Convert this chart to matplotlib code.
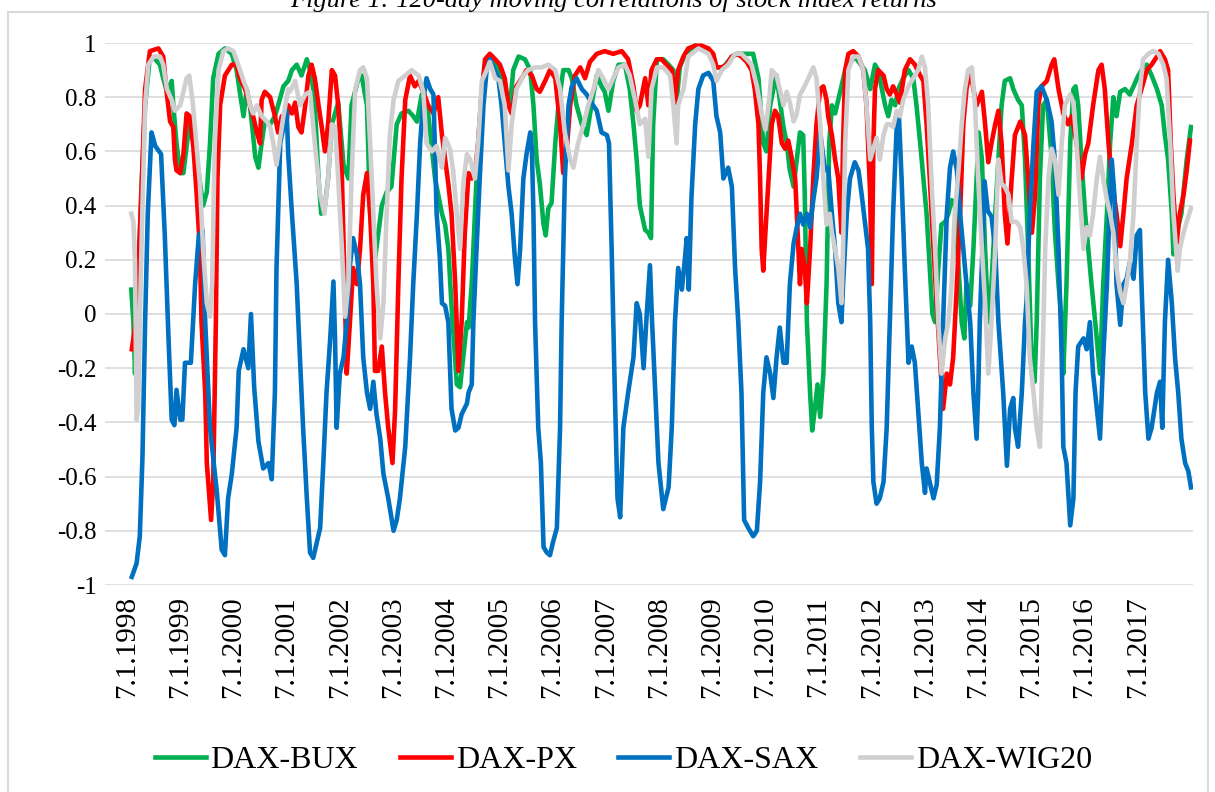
import matplotlib
matplotlib.use("Agg")
import matplotlib.pyplot as plt
from matplotlib.patches import Rectangle
import numpy as np

plt.rcParams['font.family'] = ['Liberation Serif', 'DejaVu Serif']

# (decimal year, 120-day correlation)
dax_bux = [
    (1998.08, 0.09), (1998.12, -0.03), (1998.15, -0.22), (1998.21, 0.11), (1998.28, 0.50), (1998.34, 0.77),
    (1998.43, 0.95), (1998.53, 0.94), (1998.62, 0.92), (1998.68, 0.87), (1998.75, 0.82), (1998.84, 0.86),
    (1998.87, 0.77), (1998.93, 0.63), (1999.00, 0.52), (1999.06, 0.52), (1999.12, 0.62), (1999.18, 0.71),
    (1999.25, 0.66), (1999.34, 0.53), (1999.43, 0.40), (1999.50, 0.45), (1999.56, 0.63), (1999.62, 0.87),
    (1999.72, 0.96), (1999.84, 0.98), (1999.97, 0.96), (2000.06, 0.90), (2000.12, 0.82), (2000.19, 0.73),
    (2000.25, 0.83), (2000.31, 0.77), (2000.37, 0.66), (2000.41, 0.58), (2000.47, 0.54), (2000.53, 0.63),
    (2000.59, 0.71), (2000.69, 0.70), (2000.78, 0.73), (2000.84, 0.77), (2000.94, 0.84), (2001.03, 0.86),
    (2001.10, 0.90), (2001.19, 0.92), (2001.28, 0.88), (2001.38, 0.94), (2001.47, 0.88), (2001.53, 0.77),
    (2001.60, 0.50), (2001.65, 0.37), (2001.72, 0.40), (2001.78, 0.50), (2001.85, 0.70), (2001.97, 0.78),
    (2002.07, 0.55), (2002.16, 0.50), (2002.22, 0.77), (2002.35, 0.87), (2002.41, 0.88), (2002.51, 0.77),
    (2002.57, 0.37), (2002.66, 0.20), (2002.79, 0.40), (2002.88, 0.45), (2002.97, 0.47), (2003.07, 0.70),
    (2003.16, 0.74), (2003.29, 0.75), (2003.38, 0.73), (2003.45, 0.71), (2003.54, 0.81), (2003.66, 0.74),
    (2003.79, 0.50), (2003.92, 0.37), (2003.98, 0.33), (2004.04, 0.24), (2004.10, 0.03), (2004.20, -0.26),
    (2004.26, -0.27), (2004.32, -0.16), (2004.39, -0.03), (2004.42, -0.05), (2004.48, 0.11), (2004.54, 0.37),
    (2004.60, 0.63), (2004.67, 0.83), (2004.73, 0.92), (2004.85, 0.94), (2004.98, 0.90), (2005.07, 0.86),
    (2005.14, 0.79), (2005.20, 0.77), (2005.26, 0.90), (2005.36, 0.95), (2005.48, 0.94), (2005.58, 0.90),
    (2005.64, 0.77), (2005.70, 0.57), (2005.76, 0.48), (2005.83, 0.33), (2005.87, 0.29), (2005.92, 0.39),
    (2005.98, 0.41), (2006.05, 0.63), (2006.11, 0.77), (2006.20, 0.90), (2006.30, 0.90), (2006.36, 0.87),
    (2006.45, 0.77), (2006.55, 0.70), (2006.64, 0.66), (2006.73, 0.77), (2006.83, 0.88), (2006.92, 0.84),
    (2006.98, 0.82), (2007.05, 0.75), (2007.14, 0.86), (2007.24, 0.92), (2007.36, 0.92), (2007.45, 0.83),
    (2007.52, 0.70), (2007.58, 0.57), (2007.64, 0.40), (2007.74, 0.31), (2007.80, 0.30), (2007.85, 0.28),
    (2007.87, 0.50), (2007.89, 0.70), (2007.96, 0.94), (2008.08, 0.94), (2008.18, 0.92), (2008.27, 0.90),
    (2008.33, 0.78), (2008.39, 0.91), (2008.49, 0.96), (2008.68, 0.99), (2008.87, 0.98), (2008.99, 0.96),
    (2009.08, 0.91), (2009.21, 0.91), (2009.37, 0.95), (2009.49, 0.96), (2009.62, 0.96), (2009.77, 0.96),
    (2009.87, 0.87), (2009.96, 0.63), (2010.02, 0.60), (2010.09, 0.77), (2010.15, 0.83), (2010.21, 0.88),
    (2010.27, 0.79), (2010.34, 0.69), (2010.40, 0.63), (2010.46, 0.53), (2010.53, 0.47), (2010.59, 0.57),
    (2010.65, 0.67), (2010.71, 0.66), (2010.74, 0.44), (2010.78, -0.03), (2010.84, -0.29), (2010.88, -0.43),
    (2010.93, -0.35), (2010.98, -0.26), (2011.03, -0.38), (2011.09, -0.22), (2011.15, 0.11), (2011.20, 0.63),
    (2011.25, 0.77), (2011.31, 0.74), (2011.50, 0.90), (2011.68, 0.95), (2011.87, 0.90), (2011.97, 0.83),
    (2012.06, 0.92), (2012.12, 0.90), (2012.19, 0.83), (2012.25, 0.77), (2012.31, 0.73), (2012.37, 0.79),
    (2012.44, 0.77), (2012.50, 0.83), (2012.59, 0.87), (2012.69, 0.90), (2012.78, 0.87), (2012.84, 0.77),
    (2012.91, 0.63), (2012.97, 0.50), (2013.03, 0.37), (2013.09, 0.17), (2013.14, 0.00), (2013.19, -0.03),
    (2013.25, 0.17), (2013.31, 0.33), (2013.38, 0.34), (2013.44, 0.37), (2013.50, 0.42), (2013.56, 0.41),
    (2013.63, 0.17), (2013.69, -0.03), (2013.74, -0.09), (2013.78, 0.11), (2013.85, 0.03), (2013.91, 0.24),
    (2013.97, 0.50), (2014.01, 0.67), (2014.07, 0.57), (2014.13, 0.24), (2014.19, -0.03), (2014.25, 0.11),
    (2014.32, 0.37), (2014.38, 0.57), (2014.44, 0.77), (2014.50, 0.86), (2014.60, 0.87), (2014.66, 0.83),
    (2014.75, 0.79), (2014.82, 0.77), (2014.88, 0.57), (2014.94, 0.24), (2015.01, -0.22), (2015.06, -0.25),
    (2015.10, -0.03), (2015.16, 0.50), (2015.22, 0.77), (2015.29, 0.79), (2015.38, 0.58), (2015.44, 0.31),
    (2015.51, 0.11), (2015.57, -0.03), (2015.60, -0.22), (2015.66, 0.11), (2015.73, 0.63), (2015.79, 0.83),
    (2015.83, 0.84), (2015.88, 0.77), (2015.94, 0.57), (2016.01, 0.37), (2016.07, 0.24), (2016.13, 0.11),
    (2016.20, -0.03), (2016.29, -0.22), (2016.35, 0.11), (2016.42, 0.37), (2016.48, 0.63), (2016.54, 0.80),
    (2016.60, 0.73), (2016.67, 0.82), (2016.76, 0.83), (2016.85, 0.81), (2016.92, 0.84), (2017.01, 0.88),
    (2017.10, 0.91), (2017.17, 0.92), (2017.26, 0.88), (2017.36, 0.83), (2017.45, 0.77), (2017.51, 0.66),
    (2017.57, 0.57), (2017.64, 0.37), (2017.67, 0.22), (2017.73, 0.30), (2017.82, 0.37), (2017.92, 0.57),
    (2018.00, 0.69),
]

dax_px = [
    (1998.09, -0.13), (1998.15, -0.05), (1998.22, 0.20), (1998.28, 0.50), (1998.34, 0.83), (1998.43, 0.97),
    (1998.59, 0.98), (1998.68, 0.95), (1998.75, 0.81), (1998.81, 0.71), (1998.87, 0.69), (1998.90, 0.57),
    (1998.93, 0.53), (1999.00, 0.52), (1999.06, 0.59), (1999.12, 0.74), (1999.18, 0.73), (1999.25, 0.61),
    (1999.31, 0.44), (1999.37, 0.24), (1999.40, -0.03), (1999.47, -0.29), (1999.50, -0.55), (1999.58, -0.76),
    (1999.62, -0.62), (1999.67, -0.03), (1999.70, 0.50), (1999.75, 0.77), (1999.84, 0.88), (1999.97, 0.92),
    (2000.06, 0.92), (2000.12, 0.87), (2000.22, 0.83), (2000.28, 0.79), (2000.37, 0.73), (2000.44, 0.67),
    (2000.50, 0.63), (2000.53, 0.79), (2000.59, 0.82), (2000.69, 0.80), (2000.78, 0.73), (2000.84, 0.67),
    (2000.91, 0.73), (2001.00, 0.71), (2001.03, 0.77), (2001.10, 0.74), (2001.16, 0.78), (2001.22, 0.69),
    (2001.28, 0.67), (2001.35, 0.77), (2001.41, 0.88), (2001.47, 0.92), (2001.53, 0.87), (2001.60, 0.77),
    (2001.66, 0.69), (2001.72, 0.60), (2001.78, 0.70), (2001.85, 0.90), (2001.91, 0.88), (2001.97, 0.77),
    (2002.04, 0.50), (2002.09, 0.11), (2002.13, -0.22), (2002.19, -0.03), (2002.25, 0.17), (2002.32, 0.11),
    (2002.38, 0.24), (2002.44, 0.44), (2002.51, 0.52), (2002.57, 0.37), (2002.63, 0.11), (2002.66, -0.21),
    (2002.72, -0.21), (2002.79, -0.12), (2002.85, -0.29), (2002.91, -0.42), (2002.99, -0.55), (2003.04, -0.35),
    (2003.10, 0.11), (2003.16, 0.50), (2003.23, 0.79), (2003.32, 0.88), (2003.41, 0.84), (2003.48, 0.86),
    (2003.57, 0.82), (2003.66, 0.77), (2003.76, 0.74), (2003.85, 0.80), (2003.92, 0.66), (2003.98, 0.57),
    (2004.04, 0.48), (2004.10, 0.37), (2004.17, 0.11), (2004.23, -0.21), (2004.29, -0.03), (2004.35, 0.30),
    (2004.42, 0.52), (2004.48, 0.50), (2004.54, 0.52), (2004.60, 0.63), (2004.67, 0.82), (2004.73, 0.94),
    (2004.82, 0.96), (2004.92, 0.94), (2005.01, 0.92), (2005.10, 0.87), (2005.17, 0.77), (2005.23, 0.74),
    (2005.32, 0.84), (2005.42, 0.87), (2005.51, 0.90), (2005.61, 0.88), (2005.70, 0.83), (2005.76, 0.82),
    (2005.86, 0.86), (2005.95, 0.90), (2006.05, 0.87), (2006.14, 0.70), (2006.20, 0.52), (2006.26, 0.59),
    (2006.33, 0.77), (2006.42, 0.88), (2006.52, 0.91), (2006.61, 0.87), (2006.70, 0.93), (2006.83, 0.96),
    (2006.98, 0.97), (2007.14, 0.96), (2007.30, 0.97), (2007.42, 0.94), (2007.52, 0.84), (2007.58, 0.75),
    (2007.64, 0.77), (2007.74, 0.87), (2007.80, 0.77), (2007.86, 0.90), (2007.96, 0.94), (2008.05, 0.94),
    (2008.14, 0.92), (2008.24, 0.90), (2008.30, 0.78), (2008.36, 0.90), (2008.46, 0.95), (2008.55, 0.98),
    (2008.68, 0.99), (2008.80, 0.99), (2008.93, 0.98), (2009.02, 0.96), (2009.08, 0.91), (2009.18, 0.91),
    (2009.27, 0.92), (2009.37, 0.95), (2009.46, 0.96), (2009.55, 0.95), (2009.65, 0.93), (2009.74, 0.90),
    (2009.80, 0.83), (2009.87, 0.70), (2009.90, 0.50), (2009.93, 0.24), (2009.96, 0.16), (2010.00, 0.30),
    (2010.06, 0.50), (2010.12, 0.70), (2010.18, 0.75), (2010.24, 0.73), (2010.31, 0.63), (2010.37, 0.61),
    (2010.43, 0.64), (2010.49, 0.58), (2010.56, 0.50), (2010.62, 0.24), (2010.65, 0.11), (2010.68, 0.24),
    (2010.74, 0.17), (2010.78, 0.04), (2010.84, 0.24), (2010.90, 0.50), (2010.96, 0.70), (2011.03, 0.83),
    (2011.09, 0.84), (2011.15, 0.79), (2011.18, 0.73), (2011.25, 0.66), (2011.31, 0.57), (2011.37, 0.50),
    (2011.43, 0.30), (2011.46, 0.63), (2011.50, 0.90), (2011.56, 0.96), (2011.65, 0.97), (2011.75, 0.95),
    (2011.84, 0.90), (2011.90, 0.77), (2011.97, 0.44), (2012.00, 0.11), (2012.03, 0.63), (2012.06, 0.83),
    (2012.12, 0.90), (2012.22, 0.88), (2012.28, 0.83), (2012.34, 0.81), (2012.40, 0.84), (2012.47, 0.81),
    (2012.53, 0.78), (2012.62, 0.90), (2012.72, 0.94), (2012.81, 0.92), (2012.91, 0.88), (2012.97, 0.86),
    (2013.03, 0.70), (2013.09, 0.50), (2013.16, 0.24), (2013.22, 0.04), (2013.28, -0.16), (2013.34, -0.35),
    (2013.41, -0.22), (2013.47, -0.26), (2013.53, -0.16), (2013.60, 0.11), (2013.66, 0.37), (2013.72, 0.70),
    (2013.78, 0.83), (2013.85, 0.90), (2013.91, 0.83), (2013.97, 0.77), (2014.07, 0.82), (2014.13, 0.70),
    (2014.19, 0.56), (2014.25, 0.63), (2014.32, 0.70), (2014.38, 0.75), (2014.44, 0.63), (2014.50, 0.37),
    (2014.55, 0.26), (2014.63, 0.50), (2014.69, 0.66), (2014.79, 0.71), (2014.88, 0.66), (2014.94, 0.50),
    (2015.01, 0.30), (2015.07, 0.44), (2015.13, 0.77), (2015.19, 0.84), (2015.29, 0.86), (2015.38, 0.92),
    (2015.43, 0.94), (2015.51, 0.83), (2015.60, 0.74), (2015.69, 0.70), (2015.76, 0.73), (2015.85, 0.63),
    (2015.94, 0.50), (2016.01, 0.59), (2016.07, 0.63), (2016.16, 0.77), (2016.26, 0.90), (2016.32, 0.92),
    (2016.38, 0.83), (2016.45, 0.63), (2016.51, 0.50), (2016.60, 0.37), (2016.67, 0.25), (2016.73, 0.37),
    (2016.79, 0.50), (2016.89, 0.63), (2016.98, 0.77), (2017.07, 0.83), (2017.17, 0.90), (2017.26, 0.92),
    (2017.36, 0.95), (2017.42, 0.97), (2017.51, 0.94), (2017.57, 0.90), (2017.62, 0.63), (2017.67, 0.44),
    (2017.73, 0.26), (2017.79, 0.37), (2017.86, 0.44), (2017.92, 0.53), (2017.98, 0.64),
]

dax_sax = [
    (1998.09, -0.97), (1998.18, -0.92), (1998.24, -0.82), (1998.29, -0.53), (1998.34, -0.03), (1998.39, 0.37),
    (1998.46, 0.67), (1998.53, 0.62), (1998.64, 0.59), (1998.71, 0.29), (1998.78, -0.09), (1998.84, -0.39),
    (1998.89, -0.41), (1998.93, -0.28), (1999.00, -0.39), (1999.04, -0.39), (1999.09, -0.18), (1999.20, -0.18),
    (1999.28, 0.11), (1999.35, 0.29), (1999.42, 0.31), (1999.47, -0.03), (1999.56, -0.42), (1999.69, -0.66),
    (1999.78, -0.87), (1999.84, -0.89), (1999.90, -0.68), (1999.97, -0.59), (2000.06, -0.42), (2000.10, -0.21),
    (2000.19, -0.13), (2000.28, -0.20), (2000.33, 0.00), (2000.39, -0.27), (2000.47, -0.47), (2000.56, -0.57),
    (2000.66, -0.55), (2000.72, -0.61), (2000.78, -0.29), (2000.81, 0.17), (2000.88, 0.63), (2001.00, 0.75),
    (2001.03, 0.59), (2001.10, 0.37), (2001.19, 0.11), (2001.25, -0.16), (2001.31, -0.42), (2001.38, -0.68),
    (2001.44, -0.88), (2001.50, -0.90), (2001.57, -0.84), (2001.63, -0.79), (2001.69, -0.55), (2001.75, -0.29),
    (2001.82, -0.09), (2001.88, 0.12), (2001.91, -0.09), (2001.94, -0.42), (2002.00, -0.22), (2002.07, -0.16),
    (2002.13, -0.03), (2002.19, 0.18), (2002.25, 0.28), (2002.32, 0.22), (2002.38, 0.11), (2002.44, -0.16),
    (2002.51, -0.29), (2002.57, -0.35), (2002.63, -0.25), (2002.69, -0.37), (2002.76, -0.46), (2002.82, -0.59),
    (2002.91, -0.68), (2003.01, -0.80), (2003.07, -0.76), (2003.13, -0.68), (2003.23, -0.49), (2003.32, -0.16),
    (2003.38, 0.11), (2003.45, 0.37), (2003.51, 0.63), (2003.57, 0.79), (2003.63, 0.87), (2003.70, 0.83),
    (2003.76, 0.81), (2003.82, 0.37), (2003.88, 0.21), (2003.92, 0.04), (2003.98, 0.03), (2004.04, -0.03),
    (2004.10, -0.35), (2004.17, -0.43), (2004.23, -0.42), (2004.29, -0.37), (2004.39, -0.33), (2004.42, -0.29),
    (2004.48, -0.26), (2004.51, -0.03), (2004.57, 0.24), (2004.63, 0.50), (2004.70, 0.77), (2004.76, 0.90),
    (2004.82, 0.94), (2004.89, 0.91), (2004.98, 0.87), (2005.04, 0.77), (2005.10, 0.63), (2005.17, 0.47),
    (2005.23, 0.37), (2005.29, 0.21), (2005.34, 0.11), (2005.39, 0.24), (2005.45, 0.50), (2005.51, 0.59),
    (2005.58, 0.67), (2005.61, 0.61), (2005.64, 0.37), (2005.67, -0.03), (2005.73, -0.42), (2005.78, -0.55),
    (2005.83, -0.86), (2005.89, -0.88), (2005.95, -0.89), (2006.01, -0.84), (2006.08, -0.79), (2006.14, -0.42),
    (2006.17, -0.03), (2006.23, 0.50), (2006.30, 0.77), (2006.36, 0.84), (2006.45, 0.87), (2006.55, 0.83),
    (2006.64, 0.81), (2006.73, 0.78), (2006.83, 0.75), (2006.92, 0.67), (2007.02, 0.66), (2007.06, 0.63),
    (2007.11, 0.24), (2007.17, -0.29), (2007.22, -0.68), (2007.27, -0.75), (2007.33, -0.42), (2007.42, -0.29),
    (2007.52, -0.16), (2007.58, 0.04), (2007.64, 0.00), (2007.71, -0.20), (2007.77, 0.00), (2007.83, 0.18),
    (2007.87, -0.03), (2007.93, -0.29), (2007.99, -0.55), (2008.08, -0.72), (2008.18, -0.64), (2008.24, -0.42),
    (2008.30, -0.03), (2008.36, 0.17), (2008.43, 0.09), (2008.49, 0.21), (2008.52, 0.28), (2008.56, 0.09),
    (2008.61, 0.43), (2008.68, 0.70), (2008.74, 0.83), (2008.83, 0.88), (2008.93, 0.89), (2009.02, 0.86),
    (2009.08, 0.73), (2009.15, 0.67), (2009.21, 0.50), (2009.30, 0.54), (2009.37, 0.47), (2009.43, 0.17),
    (2009.49, -0.03), (2009.55, -0.29), (2009.60, -0.76), (2009.68, -0.79), (2009.77, -0.82), (2009.84, -0.80),
    (2009.90, -0.62), (2009.96, -0.29), (2010.02, -0.16), (2010.09, -0.22), (2010.15, -0.31), (2010.21, -0.16),
    (2010.27, -0.05), (2010.34, -0.18), (2010.40, -0.18), (2010.46, 0.11), (2010.53, 0.26), (2010.59, 0.32),
    (2010.65, 0.37), (2010.71, 0.33), (2010.78, 0.37), (2010.84, 0.32), (2010.90, 0.42), (2010.96, 0.50),
    (2011.03, 0.67), (2011.12, 0.53), (2011.18, 0.54), (2011.25, 0.37), (2011.31, 0.24), (2011.37, 0.04),
    (2011.43, -0.03), (2011.46, 0.11), (2011.53, 0.37), (2011.59, 0.50), (2011.68, 0.56), (2011.75, 0.53),
    (2011.81, 0.44), (2011.87, 0.34), (2011.93, 0.24), (2011.97, -0.03), (2012.00, -0.42), (2012.03, -0.62),
    (2012.09, -0.70), (2012.15, -0.68), (2012.22, -0.62), (2012.28, -0.42), (2012.34, -0.03), (2012.40, 0.37),
    (2012.47, 0.70), (2012.51, 0.73), (2012.56, 0.50), (2012.62, 0.17), (2012.69, -0.18), (2012.75, -0.12),
    (2012.81, -0.18), (2012.87, -0.35), (2012.94, -0.55), (2013.00, -0.66), (2013.03, -0.57), (2013.09, -0.62),
    (2013.16, -0.68), (2013.22, -0.63), (2013.28, -0.42), (2013.34, -0.03), (2013.41, 0.37), (2013.47, 0.54),
    (2013.53, 0.60), (2013.60, 0.53), (2013.66, 0.37), (2013.72, 0.24), (2013.78, 0.11), (2013.85, -0.03),
    (2013.91, -0.29), (2013.97, -0.46), (2014.00, -0.29), (2014.03, -0.03), (2014.08, 0.24), (2014.12, 0.49),
    (2014.18, 0.38), (2014.25, 0.36), (2014.32, 0.24), (2014.38, -0.03), (2014.47, -0.29), (2014.54, -0.56),
    (2014.60, -0.35), (2014.66, -0.31), (2014.69, -0.42), (2014.75, -0.49), (2014.82, -0.29), (2014.88, -0.03),
    (2014.91, 0.05), (2014.97, 0.37), (2015.04, 0.63), (2015.10, 0.82), (2015.19, 0.84), (2015.29, 0.79),
    (2015.38, 0.71), (2015.44, 0.57), (2015.51, 0.24), (2015.57, -0.16), (2015.60, -0.49), (2015.66, -0.55),
    (2015.73, -0.78), (2015.79, -0.68), (2015.83, -0.29), (2015.88, -0.12), (2015.98, -0.09), (2016.04, -0.13),
    (2016.10, -0.03), (2016.16, -0.22), (2016.23, -0.35), (2016.29, -0.46), (2016.35, -0.16), (2016.42, 0.11),
    (2016.48, 0.44), (2016.51, 0.57), (2016.56, 0.44), (2016.60, 0.11), (2016.67, -0.04), (2016.73, 0.11),
    (2016.79, 0.13), (2016.85, 0.19), (2016.92, 0.13), (2016.98, 0.29), (2017.04, 0.31), (2017.07, 0.11),
    (2017.14, -0.29), (2017.20, -0.46), (2017.26, -0.42), (2017.36, -0.29), (2017.42, -0.25), (2017.46, -0.42),
    (2017.51, -0.03), (2017.57, 0.20), (2017.64, 0.04), (2017.70, -0.16), (2017.76, -0.29), (2017.82, -0.46),
    (2017.89, -0.55), (2017.95, -0.58), (2018.00, -0.64),
]

dax_wig20 = [
    (1998.08, 0.37), (1998.12, 0.34), (1998.15, 0.19), (1998.18, -0.39), (1998.21, -0.35), (1998.24, -0.03),
    (1998.29, 0.40), (1998.34, 0.77), (1998.40, 0.92), (1998.50, 0.95), (1998.62, 0.95), (1998.68, 0.92),
    (1998.75, 0.83), (1998.84, 0.79), (1998.90, 0.75), (1999.00, 0.77), (1999.06, 0.82), (1999.12, 0.87),
    (1999.17, 0.88), (1999.23, 0.79), (1999.29, 0.66), (1999.37, 0.48), (1999.43, 0.24), (1999.50, 0.04),
    (1999.56, -0.01), (1999.60, 0.11), (1999.65, 0.63), (1999.72, 0.90), (1999.81, 0.97), (1999.90, 0.98),
    (2000.00, 0.97), (2000.09, 0.92), (2000.19, 0.86), (2000.25, 0.83), (2000.31, 0.77), (2000.37, 0.74),
    (2000.44, 0.77), (2000.53, 0.73), (2000.63, 0.71), (2000.69, 0.69), (2000.75, 0.63), (2000.81, 0.55),
    (2000.88, 0.65), (2000.94, 0.73), (2001.03, 0.83), (2001.06, 0.82), (2001.16, 0.86), (2001.25, 0.77),
    (2001.35, 0.81), (2001.44, 0.82), (2001.53, 0.63), (2001.63, 0.44), (2001.71, 0.37), (2001.78, 0.50),
    (2001.85, 0.70), (2001.91, 0.69), (2001.97, 0.50), (2002.04, 0.24), (2002.10, -0.01), (2002.16, 0.11),
    (2002.22, 0.50), (2002.29, 0.83), (2002.38, 0.90), (2002.44, 0.91), (2002.51, 0.87), (2002.57, 0.63),
    (2002.63, 0.37), (2002.69, 0.11), (2002.76, -0.09), (2002.82, 0.04), (2002.88, 0.37), (2002.94, 0.66),
    (2003.01, 0.79), (2003.10, 0.86), (2003.23, 0.88), (2003.35, 0.90), (2003.48, 0.88), (2003.57, 0.82),
    (2003.63, 0.63), (2003.73, 0.60), (2003.82, 0.62), (2003.92, 0.54), (2003.98, 0.65), (2004.07, 0.61),
    (2004.13, 0.53), (2004.20, 0.37), (2004.26, 0.24), (2004.32, 0.48), (2004.39, 0.59), (2004.45, 0.57),
    (2004.54, 0.50), (2004.60, 0.63), (2004.67, 0.86), (2004.76, 0.90), (2004.82, 0.93), (2004.92, 0.87),
    (2005.01, 0.86), (2005.10, 0.77), (2005.17, 0.53), (2005.23, 0.70), (2005.32, 0.83), (2005.45, 0.88),
    (2005.54, 0.90), (2005.67, 0.91), (2005.79, 0.91), (2005.92, 0.92), (2006.05, 0.90), (2006.14, 0.83),
    (2006.23, 0.67), (2006.33, 0.57), (2006.39, 0.54), (2006.48, 0.63), (2006.58, 0.70), (2006.67, 0.77),
    (2006.77, 0.83), (2006.86, 0.90), (2006.95, 0.87), (2007.05, 0.83), (2007.14, 0.87), (2007.24, 0.91),
    (2007.36, 0.92), (2007.45, 0.88), (2007.55, 0.79), (2007.64, 0.70), (2007.74, 0.72), (2007.80, 0.58),
    (2007.86, 0.83), (2007.96, 0.91), (2008.08, 0.91), (2008.21, 0.88), (2008.27, 0.77), (2008.33, 0.63),
    (2008.36, 0.77), (2008.46, 0.83), (2008.55, 0.95), (2008.74, 0.98), (2008.93, 0.96), (2009.02, 0.92),
    (2009.08, 0.86), (2009.18, 0.90), (2009.30, 0.92), (2009.43, 0.96), (2009.55, 0.96), (2009.65, 0.94),
    (2009.74, 0.92), (2009.84, 0.84), (2009.93, 0.74), (2010.00, 0.68), (2010.06, 0.77), (2010.12, 0.90),
    (2010.21, 0.88), (2010.27, 0.83), (2010.34, 0.77), (2010.40, 0.82), (2010.46, 0.78), (2010.53, 0.71),
    (2010.59, 0.74), (2010.65, 0.81), (2010.71, 0.83), (2010.81, 0.87), (2010.90, 0.91), (2010.96, 0.87),
    (2011.03, 0.70), (2011.09, 0.50), (2011.15, 0.33), (2011.21, 0.37), (2011.25, 0.30), (2011.31, 0.24),
    (2011.37, 0.17), (2011.43, 0.04), (2011.46, 0.24), (2011.50, 0.63), (2011.56, 0.90), (2011.65, 0.95),
    (2011.75, 0.95), (2011.84, 0.90), (2011.90, 0.77), (2011.97, 0.57), (2012.03, 0.61), (2012.09, 0.65),
    (2012.15, 0.57), (2012.22, 0.66), (2012.28, 0.70), (2012.34, 0.70), (2012.40, 0.69), (2012.47, 0.75),
    (2012.53, 0.73), (2012.59, 0.79), (2012.69, 0.84), (2012.78, 0.87), (2012.87, 0.90), (2012.94, 0.95),
    (2013.00, 0.91), (2013.06, 0.77), (2013.12, 0.50), (2013.19, 0.24), (2013.25, -0.03), (2013.31, -0.22),
    (2013.38, -0.09), (2013.44, -0.03), (2013.50, 0.11), (2013.56, 0.37), (2013.63, 0.53), (2013.69, 0.70),
    (2013.75, 0.83), (2013.81, 0.90), (2013.88, 0.91), (2013.94, 0.77), (2014.00, 0.50), (2014.07, 0.24),
    (2014.13, 0.04), (2014.19, -0.22), (2014.25, -0.03), (2014.32, 0.24), (2014.38, 0.57), (2014.44, 0.48),
    (2014.50, 0.47), (2014.57, 0.44), (2014.63, 0.34), (2014.72, 0.34), (2014.79, 0.32), (2014.85, 0.24),
    (2014.91, 0.11), (2014.97, -0.16), (2015.04, -0.29), (2015.10, -0.42), (2015.16, -0.49), (2015.21, -0.16),
    (2015.26, 0.24), (2015.32, 0.50), (2015.38, 0.61), (2015.44, 0.57), (2015.51, 0.44), (2015.57, 0.63),
    (2015.63, 0.77), (2015.73, 0.81), (2015.79, 0.78), (2015.85, 0.63), (2015.91, 0.44), (2015.98, 0.24),
    (2016.04, 0.32), (2016.10, 0.29), (2016.16, 0.37), (2016.23, 0.50), (2016.29, 0.58), (2016.35, 0.50),
    (2016.42, 0.42), (2016.48, 0.37), (2016.54, 0.30), (2016.60, 0.17), (2016.67, 0.08), (2016.73, 0.04),
    (2016.79, 0.11), (2016.85, 0.19), (2016.92, 0.37), (2016.98, 0.63), (2017.04, 0.83), (2017.10, 0.94),
    (2017.20, 0.96), (2017.29, 0.97), (2017.39, 0.96), (2017.48, 0.92), (2017.54, 0.87), (2017.61, 0.63),
    (2017.67, 0.37), (2017.75, 0.16), (2017.79, 0.24), (2017.86, 0.30), (2017.92, 0.34), (2018.00, 0.39),
]

series = [
    ('DAX-BUX', dax_bux, '#00B050'),
    ('DAX-PX', dax_px, '#FF0000'),
    ('DAX-SAX', dax_sax, '#0070C0'),
    ('DAX-WIG20', dax_wig20, '#D0CECE'),
]

years = list(range(1998, 2018))
year_labels = ['7.1.%d' % y for y in years]
y_ticks = [1, 0.8, 0.6, 0.4, 0.2, 0, -0.2, -0.4, -0.6, -0.8, -1]

fig = plt.figure(figsize=(12.15, 7.92), dpi=100)
W, H = 1215, 792

# outer chart border
fig.patches.append(Rectangle((8 / W, -0.02), 1200 / W, 1.02 - 12 / H, transform=fig.transFigure,
                             fill=False, edgecolor='#d9d9d9', linewidth=1.5))

# caption sits partly above the image edge, as in the source
fig.text(0.505, 1 - 7 / H, 'Figure 1: 120-day moving correlations of stock index returns',
         ha='center', va='baseline', fontsize=19, style='italic')

ax = fig.add_axes([105 / W, 1 - 585 / H, 1088 / W, 542 / H])

for name, data, color in series:
    t, v = zip(*data)
    ax.plot(t, v, color=color, linewidth=3.3, label=name, solid_joinstyle='round')

ax.set_xlim(1997.586, 2018.038)
ax.set_ylim(-1, 1)
ax.set_yticks(y_ticks)
ax.set_yticklabels(['%g' % y for y in y_ticks], fontsize=18)
ax.set_xticks(years)
ax.set_xticklabels(year_labels, rotation=90, fontsize=21)
ax.tick_params(axis='both', length=0)
ax.tick_params(axis='y', pad=6)
ax.tick_params(axis='x', pad=8)
ax.yaxis.grid(True, color='#d9d9d9', linewidth=1.2)
ax.set_axisbelow(True)
for s in ax.spines.values():
    s.set_visible(False)

fig.legend(loc='center', bbox_to_anchor=(0.513, 1 - 760 / H), ncol=4, frameon=False,
           fontsize=23, handlelength=1.6, handletextpad=0.15, columnspacing=1.3)

fig.savefig('out.png', dpi=100)
